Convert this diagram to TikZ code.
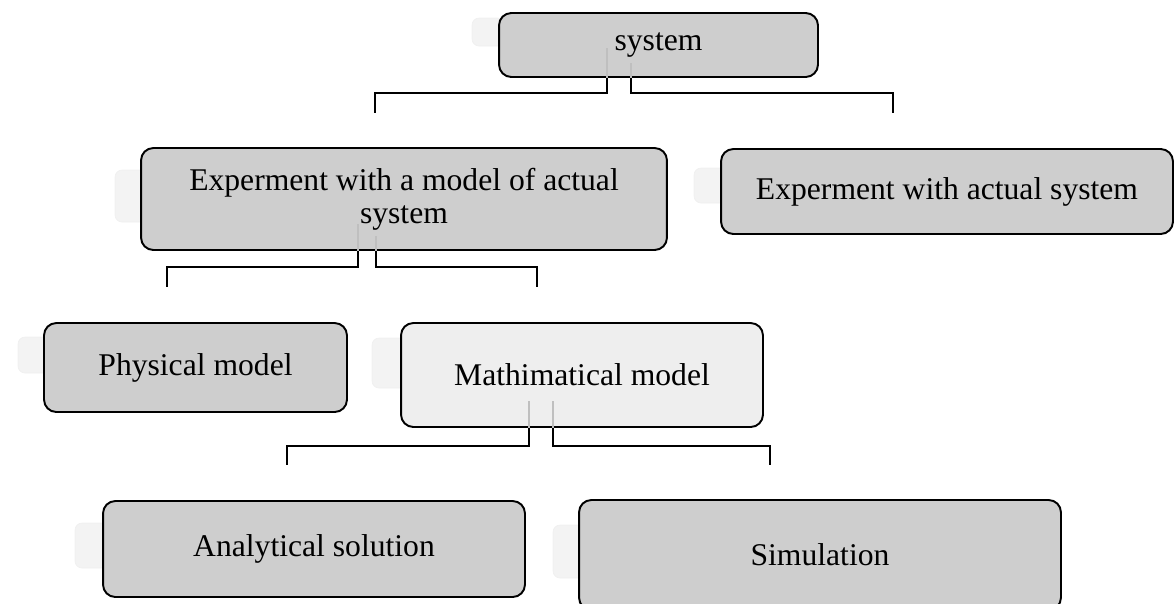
\documentclass[tikz,border=0pt]{standalone}
\usepackage{fontspec}
\setmainfont{Liberation Serif}
\definecolor{boxgray}{HTML}{CECECE}
\definecolor{boxlight}{HTML}{EEEEEE}
\definecolor{ghostgray}{HTML}{F3F3F3}

\begin{document}
\begin{tikzpicture}[x=0.02cm,y=-0.02cm,
        box/.style={draw,line width=1.1pt,rounded corners=7pt,fill=boxgray,
            align=center,inner sep=0pt,font=\fontsize{18}{19}\selectfont},
        light box/.style={box,fill=boxlight},
        ghost/.style={fill=ghostgray,draw=gray!12,rounded corners=4pt},
        link/.style={line width=1.1pt},
        trace/.style={gray!50,line width=0.6pt}]

    \useasboundingbox (0,0) rectangle (1175,603);
    \clip (0,0) rectangle (1175,603);

    % faint tabs left of the boxes
    \draw[ghost] (472,18) rectangle (505,46);
    \draw[ghost] (115,170) rectangle (150,222);
    \draw[ghost] (694,168) rectangle (730,203);
    \draw[ghost] (18,337) rectangle (50,373);
    \draw[ghost] (372,338) rectangle (410,388);
    \draw[ghost] (75,523) rectangle (110,568);
    \draw[ghost] (553,525) rectangle (585,578);

    \node[box,minimum width=6.38cm,minimum height=1.28cm] (sys) at (658.5,45) {system};
    \node[box,minimum width=10.52cm,minimum height=2.04cm] (modexp) at (404,199)
        {Experment with a model of actual\\system};
    \node[box,minimum width=9.04cm,minimum height=1.70cm] (actexp) at (947,191.5)
        {Experment with actual system};
    \node[box,minimum width=6.06cm,minimum height=1.78cm] (phys) at (195.5,367.5)
        {Physical model};
    \node[light box,minimum width=7.24cm,minimum height=2.08cm] (math) at (582,375)
        {Mathimatical model};
    \node[box,minimum width=8.44cm,minimum height=1.92cm] (anal) at (314,549)
        {Analytical solution};
    \node[box,minimum width=9.64cm,minimum height=2.2cm] (sim) at (820,555)
        {Simulation};

    \coordinate (sysA) at (375,113);
    \coordinate (sysB) at (893,113);
    \coordinate (modA) at (167,287);
    \coordinate (modB) at (537,287);
    \coordinate (mathA) at (287,465);
    \coordinate (mathB) at (770,465);

    \draw[trace] ([xshift=-1.03cm]sys.south) -- ++(0,-30);
    \draw[trace] ([xshift=-0.55cm]sys.south) -- ++(0,-15);
    \draw[trace] ([xshift=-0.92cm]modexp.south) -- ++(0,-27);
    \draw[trace] ([xshift=-0.56cm]modexp.south) -- ++(0,-15);
    \draw[trace] ([xshift=-1.06cm]math.south) -- ++(0,-27);
    \draw[trace] ([xshift=-0.58cm]math.south) -- ++(0,-27);

    \draw[link] ([xshift=-1.03cm]sys.south) -- ++(0,15) -| (sysA);
    \draw[link] ([xshift=-0.55cm]sys.south) -- ++(0,15) -| (sysB);
    \draw[link] ([xshift=-0.92cm]modexp.south) -- ++(0,16) -| (modA);
    \draw[link] ([xshift=-0.56cm]modexp.south) -- ++(0,16) -| (modB);
    \draw[link] ([xshift=-1.06cm]math.south) -- ++(0,18) -| (mathA);
    \draw[link] ([xshift=-0.58cm]math.south) -- ++(0,18) -| (mathB);
\end{tikzpicture}
\end{document}
